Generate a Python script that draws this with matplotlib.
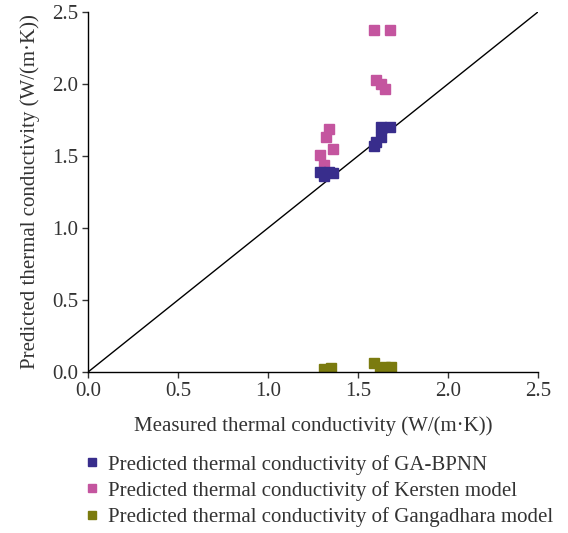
import numpy as np
import matplotlib.pyplot as plt
from matplotlib.lines import Line2D

plt.rcParams['font.family'] = ['Liberation Serif', 'DejaVu Serif']

# GA-BPNN predictions
ga_x = [1.63, 1.68, 1.63, 1.60, 1.59, 1.29, 1.31, 1.34, 1.36]
ga_y = [1.70, 1.70, 1.63, 1.60, 1.57, 1.39, 1.36, 1.39, 1.38]
# Kersten model predictions
ke_x = [1.59, 1.68, 1.60, 1.63, 1.65, 1.34, 1.32, 1.36, 1.29, 1.31]
ke_y = [2.375, 2.375, 2.03, 2.00, 1.965, 1.69, 1.63, 1.55, 1.51, 1.44]
# Gangadhara model predictions
gg_x = [1.31, 1.35, 1.59, 1.65, 1.685, 1.62, 1.66]
gg_y = [0.02, 0.026, 0.06, 0.033, 0.033, 0.014, 0.028]

c_ga = '#382d8c'
c_ke = '#c4559f'
c_gg = '#7b7b0f'

fig = plt.figure(figsize=(5.68, 5.33), dpi=100)
ax = fig.add_axes([0.155, 0.302, 0.792, 0.6755])

ax.plot([0, 2.5], [0, 2.5], color='black', lw=1.0, zorder=1)
ax.plot(ga_x, ga_y, 's', color=c_ga, ms=6.5, ls='none', zorder=3)
ax.plot(ke_x, ke_y, 's', color=c_ke, ms=6.5, ls='none', zorder=2)
ax.plot(gg_x, gg_y, 's', color=c_gg, ms=6.5, ls='none', zorder=2)

ax.set_xlim(0, 2.5)
ax.set_ylim(0, 2.5)
ticks = [0.0, 0.5, 1.0, 1.5, 2.0, 2.5]
ax.set_xticks(ticks)
ax.set_yticks(ticks)
ax.set_xticklabels([f'{t:.1f}' for t in ticks])
ax.set_yticklabels([f'{t:.1f}' for t in ticks])
ax.tick_params(labelsize=15, length=4, width=1, pad=3, colors='#333333', labelcolor='#333333')
for s in ['top', 'right']:
    ax.spines[s].set_visible(False)
for s in ['left', 'bottom']:
    ax.spines[s].set_linewidth(1)

ax.set_xlabel('Measured thermal conductivity (W/(m·K))', fontsize=15, color='#333333', labelpad=11)
ax.set_ylabel('Predicted thermal conductivity (W/(m·K))', fontsize=15, color='#333333', labelpad=9)

handles = [
    Line2D([], [], marker='s', color=c_ga, ls='none', ms=6),
    Line2D([], [], marker='s', color=c_ke, ls='none', ms=6),
    Line2D([], [], marker='s', color=c_gg, ls='none', ms=6),
]
labels = [
    'Predicted thermal conductivity of GA-BPNN',
    'Predicted thermal conductivity of Kersten model',
    'Predicted thermal conductivity of Gangadhara model',
]
fig.legend(handles, labels, loc='upper left', bbox_to_anchor=(0.153, 0.147),
           frameon=False, fontsize=15, handlelength=0.5, handletextpad=0.5,
           labelspacing=0.3, borderpad=0, borderaxespad=0, labelcolor='#333333')

fig.savefig('out.png', dpi=100)
